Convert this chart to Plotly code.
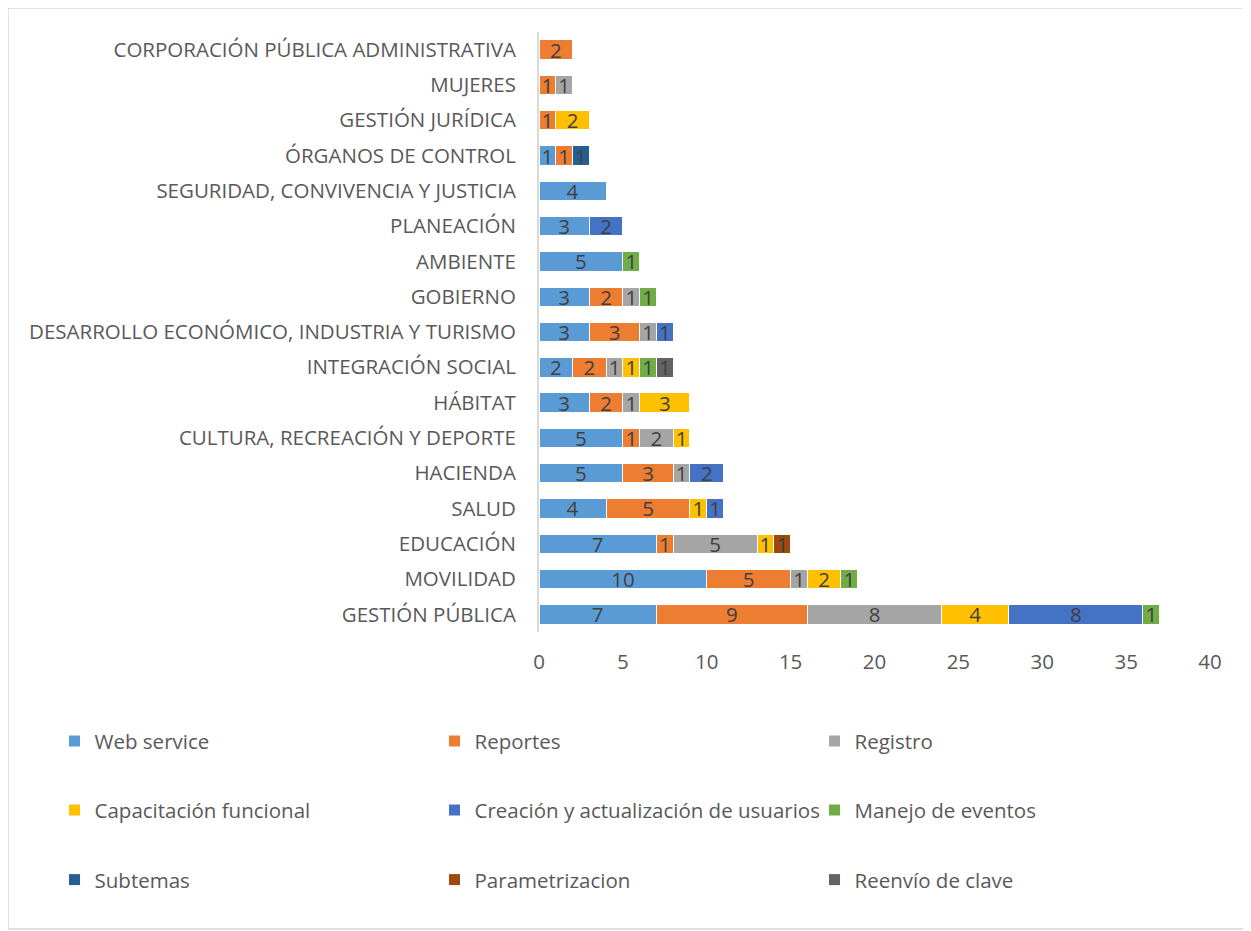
import plotly.graph_objects as go

# categories listed bottom to top, as they appear on the chart
areas = [
    "GESTIÓN PÚBLICA", "MOVILIDAD", "EDUCACIÓN", "SALUD", "HACIENDA",
    "CULTURA, RECREACIÓN Y DEPORTE", "HÁBITAT", "INTEGRACIÓN SOCIAL",
    "DESARROLLO ECONÓMICO, INDUSTRIA Y TURISMO", "GOBIERNO", "AMBIENTE",
    "PLANEACIÓN", "SEGURIDAD, CONVIVENCIA Y JUSTICIA", "ÓRGANOS DE CONTROL",
    "GESTIÓN JURÍDICA", "MUJERES", "CORPORACIÓN PÚBLICA ADMINISTRATIVA",
]

web_service   = [7, 10, 7, 4, 5, 5, 3, 2, 3, 3, 5, 3, 4, 1, 0, 0, 0]
reportes      = [9, 5, 1, 5, 3, 1, 2, 2, 3, 2, 0, 0, 0, 1, 1, 1, 2]
registro      = [8, 1, 5, 0, 1, 2, 1, 1, 1, 1, 0, 0, 0, 0, 0, 1, 0]
capacitacion  = [4, 2, 1, 1, 0, 1, 3, 1, 0, 0, 0, 0, 0, 0, 2, 0, 0]
creacion      = [8, 0, 0, 1, 2, 0, 0, 0, 1, 0, 0, 2, 0, 0, 0, 0, 0]
manejo        = [1, 1, 0, 0, 0, 0, 0, 1, 0, 1, 1, 0, 0, 0, 0, 0, 0]
subtemas      = [0, 0, 0, 0, 0, 0, 0, 0, 0, 0, 0, 0, 0, 1, 0, 0, 0]
parametrizacion = [0, 0, 1, 0, 0, 0, 0, 0, 0, 0, 0, 0, 0, 0, 0, 0, 0]
reenvio       = [0, 0, 0, 0, 0, 0, 0, 1, 0, 0, 0, 0, 0, 0, 0, 0, 0]

series = [
    ("Web service", web_service, "#5B9BD5"),
    ("Reportes", reportes, "#ED7D31"),
    ("Registro", registro, "#A5A5A5"),
    ("Capacitación funcional", capacitacion, "#FFC000"),
    ("Creación y actualización de usuarios", creacion, "#4472C4"),
    ("Manejo de eventos", manejo, "#70AD47"),
    ("Subtemas", subtemas, "#255E91"),
    ("Parametrizacion", parametrizacion, "#9E480E"),
    ("Reenvío de clave", reenvio, "#636363"),
]

FONT = "'Open Sans', 'Noto Sans', sans-serif"
legend_names = ["legend", "legend2", "legend3"]

fig = go.Figure()
for i, (name, vals, color) in enumerate(series):
    x = [v if v else None for v in vals]
    fig.add_trace(go.Bar(
        y=areas, x=x, name=name, orientation="h",
        marker=dict(color=color, line=dict(color="white", width=1)),
        text=x, texttemplate="%{x}", textposition="inside", textangle=0,
        insidetextanchor="middle", constraintext="none",
        textfont=dict(color="#404040", size=20.5, family=FONT),
        legend=legend_names[i // 3],
    ))

# page body has an 8px margin, so everything below is offset by that
legend_style = dict(
    orientation="h", xanchor="left", yanchor="middle", x=-0.722,
    entrywidth=335, itemwidth=30, traceorder="normal",
    bgcolor="rgba(0,0,0,0)",
    font=dict(size=20.5, color="#595959", family=FONT),
)

fig.update_layout(
    barmode="stack",
    bargap=0.45,
    width=1251, height=931,
    margin=dict(l=531, r=49, t=24, b=307),
    paper_bgcolor="white", plot_bgcolor="white",
    font=dict(family=FONT, size=20.5, color="#595959"),
    legend=dict(y=-0.182, **legend_style),
    legend2=dict(y=-0.297, **legend_style),
    legend3=dict(y=-0.413, **legend_style),
    xaxis=dict(range=[0, 40], dtick=5, showgrid=False, zeroline=False,
               showline=False, ticklabelstandoff=15,
               tickfont=dict(size=20.5, color="#595959")),
    yaxis=dict(showline=True, linecolor="#D9D9D9", linewidth=2,
               showgrid=False, ticklabelstandoff=17,
               tickfont=dict(size=20.5, color="#595959")),
    shapes=[dict(type="rect", xref="paper", yref="paper",
                 x0=-0.7914, x1=1.0581, y0=-0.495, y1=1.04,
                 line=dict(color="#D9D9D9", width=1.5))],
)

fig.write_html("out.html")
